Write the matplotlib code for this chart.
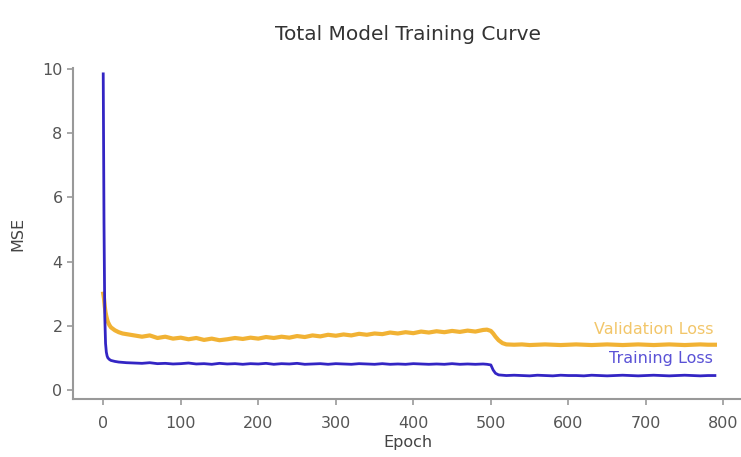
import matplotlib
matplotlib.use("Agg")
import matplotlib.pyplot as plt

# values
epochs = [0, 1, 2, 3, 4, 5, 6, 8, 10, 15, 20, 25, 30,
          40, 50, 60, 70, 80, 90, 100, 110, 120, 130, 140, 150, 160, 170, 180, 190,
          200, 210, 220, 230, 240, 250, 260, 270, 280, 290, 300, 310, 320, 330, 340,
          350, 360, 370, 380, 390, 400, 410, 420, 430, 440, 450, 460, 470, 480, 490,
          495, 500, 503, 506, 510, 515,
          520, 530, 540, 550, 560, 570, 580, 590, 600, 610, 620, 630, 640, 650, 660,
          670, 680, 690, 700, 710, 720, 730, 740, 750, 760, 770, 780, 789]

train_loss = [9.85, 5.2, 2.3, 1.45, 1.18, 1.06, 1.0, 0.95, 0.92, 0.89, 0.87, 0.86, 0.85,
              0.84, 0.83, 0.85, 0.82, 0.83, 0.81, 0.82, 0.84, 0.81, 0.82, 0.80, 0.83, 0.81, 0.82, 0.80, 0.82,
              0.81, 0.83, 0.80, 0.82, 0.81, 0.83, 0.80, 0.81, 0.82, 0.80, 0.82, 0.81, 0.80, 0.82, 0.81,
              0.80, 0.82, 0.80, 0.81, 0.80, 0.82, 0.81, 0.80, 0.81, 0.80, 0.82, 0.80, 0.81, 0.80, 0.81,
              0.80, 0.78, 0.62, 0.52, 0.47, 0.46,
              0.45, 0.46, 0.45, 0.44, 0.46, 0.45, 0.44, 0.46, 0.45, 0.45, 0.44, 0.46, 0.45, 0.44, 0.45,
              0.46, 0.45, 0.44, 0.45, 0.46, 0.45, 0.44, 0.45, 0.46, 0.45, 0.44, 0.45, 0.45]

val_loss = [3.0, 2.85, 2.6, 2.42, 2.3, 2.2, 2.12, 2.02, 1.95, 1.86, 1.8, 1.76, 1.74,
            1.70, 1.66, 1.70, 1.62, 1.66, 1.60, 1.63, 1.58, 1.62, 1.56, 1.60, 1.55, 1.58, 1.62, 1.59, 1.63,
            1.60, 1.65, 1.62, 1.66, 1.63, 1.68, 1.65, 1.70, 1.67, 1.72, 1.69, 1.73, 1.70, 1.75, 1.72,
            1.76, 1.74, 1.79, 1.76, 1.80, 1.77, 1.82, 1.79, 1.83, 1.80, 1.84, 1.81, 1.85, 1.82, 1.87,
            1.88, 1.84, 1.76, 1.66, 1.55, 1.46,
            1.42, 1.41, 1.42, 1.40, 1.41, 1.42, 1.41, 1.40, 1.41, 1.42, 1.41, 1.40, 1.41, 1.42, 1.41,
            1.40, 1.41, 1.42, 1.41, 1.40, 1.41, 1.42, 1.41, 1.40, 1.41, 1.42, 1.41, 1.41]

x_ticks = [0, 100, 200, 300, 400, 500, 600, 700, 800]
y_ticks = [0, 2, 4, 6, 8, 10]

TRAIN_C = "#3325c4"
VAL_C = "#f0aa1e"

fig = plt.figure(figsize=(7.41, 4.57), dpi=100)
ax = fig.add_axes([0.0985, 0.127, 0.905, 0.724])

ax.plot(epochs, val_loss, color=VAL_C, linewidth=3.0, alpha=0.9, zorder=2)
ax.plot(epochs, train_loss, color=TRAIN_C, linewidth=2.0, zorder=3)

ax.text(787, 1.87, "Validation Loss", color="#f2c66a", fontsize=11.5,
        ha="right", va="center")
ax.text(787, 0.98, "Training Loss", color="#5a52d6", fontsize=11.5,
        ha="right", va="center")

ax.set_xlim(-39, 826)
ax.set_ylim(-0.28, 10.03)
ax.set_xticks(x_ticks)
ax.set_yticks(y_ticks)

for s in ["top", "right"]:
    ax.spines[s].set_visible(False)
for s in ["left", "bottom"]:
    ax.spines[s].set_color("#999999")
    ax.spines[s].set_linewidth(1.5)

ax.tick_params(axis="both", colors="#999999", labelcolor="#555555",
               labelsize=11.5, length=4, width=1.2, direction="out")
ax.tick_params(axis="x", pad=8)
ax.set_xlabel("Epoch", fontsize=11.5, color="#444444", labelpad=3)
ax.set_ylabel("MSE", fontsize=11.5, color="#444444", labelpad=12)
ax.set_title("Total Model Training Curve", fontsize=14.5, color="#333333", pad=20)

fig.savefig("out.png", dpi=100)
